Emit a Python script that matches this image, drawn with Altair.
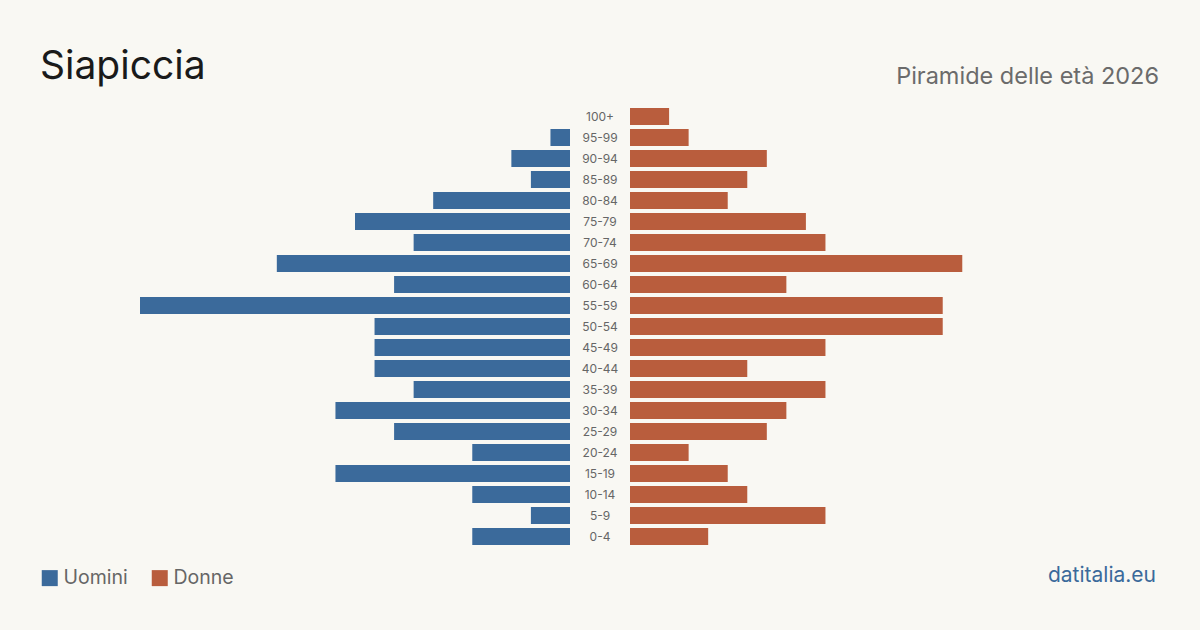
import altair as alt
import pandas as pd

# Age classes, oldest at the top
ages = ["100+", "95-99", "90-94", "85-89", "80-84", "75-79", "70-74", "65-69",
        "60-64", "55-59", "50-54", "45-49", "40-44", "35-39", "30-34", "25-29",
        "20-24", "15-19", "10-14", "5-9", "0-4"]
uomini = [0, 1, 3, 2, 7, 11, 8, 15, 9, 22, 10, 10, 10, 8, 12, 9, 5, 12, 5, 2, 5]
donne = [2, 3, 7, 6, 5, 9, 10, 17, 8, 16, 16, 10, 6, 10, 8, 7, 3, 5, 6, 10, 4]

BLUE = "#3b6a9b"
ORANGE = "#b95d3d"
BG = "#f9f8f3"
FONT = "Inter"

SIDE_W = 570        # each half panel, including the outer margin
BAR_SPAN = 430      # pixels used by the longest bar
XMAX = 22 * SIDE_W / BAR_SPAN
H = 630

men_df = pd.DataFrame({"eta": ages, "valore": uomini, "sesso": "Uomini"})
women_df = pd.DataFrame({"eta": ages, "valore": donne, "sesso": "Donne"})
labels_df = pd.DataFrame({"eta": ages})

# 21 rows of 21 px between y=106 and y=547
y_enc = alt.Y("eta:N", sort=ages, axis=None,
              scale=alt.Scale(paddingInner=0.19, paddingOuter=0.095, range=[106, 547]))
color_enc = alt.Color(
    "sesso:N",
    scale=alt.Scale(domain=["Uomini", "Donne"], range=[BLUE, ORANGE]),
    legend=alt.Legend(
        title=None, orient="none", legendX=40, legendY=568,
        direction="horizontal", symbolType="square", symbolSize=256,
        symbolStrokeWidth=0, labelFontSize=19.5, labelFont=FONT,
        labelColor="#666666", labelOffset=4, columnPadding=22,
    ),
)

left_bars = alt.Chart(men_df).mark_bar().encode(
    x=alt.X("valore:Q", scale=alt.Scale(domain=[0, XMAX], reverse=True), axis=None),
    y=y_enc,
    color=color_enc,
)

title_txt = alt.Chart(pd.DataFrame({"t": ["Siapiccia"]})).mark_text(
    align="left", baseline="alphabetic", fontSize=39, font=FONT, color="#1a1a1a"
).encode(text="t:N", x=alt.value(40), y=alt.value(79))

left = alt.layer(left_bars, title_txt).properties(width=SIDE_W, height=H)

mid = alt.Chart(labels_df).mark_text(
    fontSize=12, font=FONT, color="#666666", align="center", baseline="middle"
).encode(
    y=y_enc, x=alt.value(30), text="eta:N"
).properties(width=60, height=H)

right_bars = alt.Chart(women_df).mark_bar().encode(
    x=alt.X("valore:Q", scale=alt.Scale(domain=[0, XMAX]), axis=None),
    y=y_enc,
    color=color_enc,
)

sub_txt = alt.Chart(pd.DataFrame({"t": ["Piramide delle età 2026"]})).mark_text(
    align="right", baseline="alphabetic", fontSize=23.5, font=FONT, color="#6b6b6b"
).encode(text="t:N", x=alt.value(529), y=alt.value(84))

site_txt = alt.Chart(pd.DataFrame({"t": ["datitalia.eu"]})).mark_text(
    align="right", baseline="alphabetic", fontSize=21, font=FONT, color=BLUE
).encode(text="t:N", x=alt.value(526), y=alt.value(582))

right = alt.layer(right_bars, sub_txt, site_txt).properties(width=SIDE_W, height=H)

chart = alt.hconcat(left, mid, right, spacing=0).properties(
    background=BG,
    padding=0,
).configure_view(stroke=None).configure_concat(spacing=0)

chart.save("out.html", embed_options={"renderer": "svg", "actions": False})
